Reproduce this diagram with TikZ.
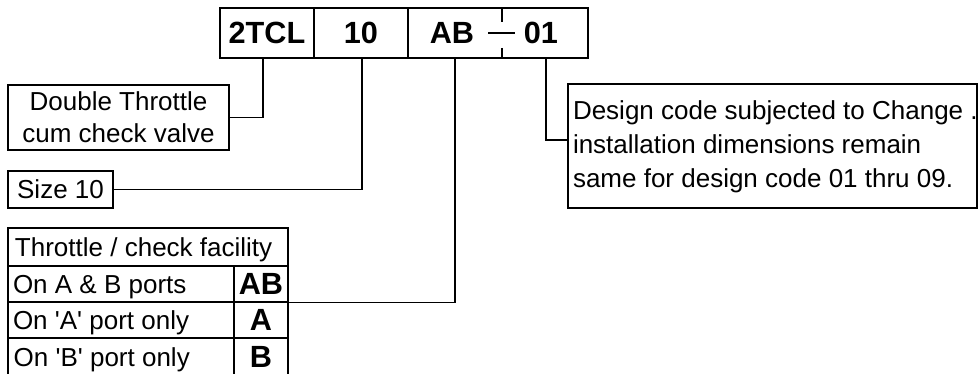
\documentclass[tikz,border=0pt]{standalone}
\usepackage{fontspec}
\setmainfont{Liberation Sans}[Ligatures=TeXOff]
\newcommand\pxu{0.75pt}
\newcommand\normtxt{\fontsize{19.5}{24}\selectfont}
\newcommand\boldtxt{\fontsize{23}{27}\selectfont\bfseries}
\begin{document}
\begin{tikzpicture}[x=0.75pt,y=-0.75pt,line width=1pt,
  every node/.style={inner sep=0pt,font=\normtxt},
  capt/.style={text height=14pt,text depth=0pt},
  bcapt/.style={font=\boldtxt,text height=16.4pt,text depth=0pt},
  box/.style={draw,line width=1pt},
  lead/.style={line width=0.8pt}]
\useasboundingbox (0,0) rectangle (979,374);
% code box
\node[box,minimum width=368*\pxu,minimum height=50*\pxu] (code) at (404,33) {};
\node[bcapt] (t1) at (267,33) {2TCL};
\node[bcapt] (t2) at (361,33) {10};
\node[bcapt] (t3) at (452,33) {AB};
\node[bcapt] (t4) at (541,33) {01};
\draw (314,8) -- (314,58);
\draw (408,8) -- (408,58);
\draw (502,8) -- (502,22);
\draw (502,48) -- (502,58);
\draw (488,33) -- (515,33);
% description boxes
\node[box,minimum width=221*\pxu,minimum height=65*\pxu,align=center,font=\fontsize{19.5}{24}\selectfont] (dbl) at (118.5,117.5) {Double Throttle\\cum check valve};
\node[box,capt,minimum width=105*\pxu,minimum height=37*\pxu] (size) at (60.5,189.5) {Size 10};
\node[box,minimum width=409*\pxu,minimum height=124*\pxu] (des) at (772.5,146) {};
\node[anchor=west,align=left,font=\fontsize{19.5}{25.5}\selectfont] (dest) at ([xshift=3.75pt,yshift=-0.8pt]des.west) {Design code subjected to Change .\\installation dimensions remain\\same for design code 01 thru 09.};
% table
\node[box,minimum width=280*\pxu,minimum height=38*\pxu] (hdr) at (148,247) {};
\node[capt,anchor=west] (hdrt) at ([xshift=5.25pt]hdr.west) {Throttle / check facility};
\node[box,minimum width=226*\pxu,minimum height=36*\pxu] (r1l) at (121,284) {};
\node[box,bcapt,minimum width=54*\pxu,minimum height=36*\pxu] (r1c) at (261,284) {AB};
\node[box,minimum width=226*\pxu,minimum height=36*\pxu] (r2l) at (121,320) {};
\node[box,bcapt,minimum width=54*\pxu,minimum height=36*\pxu] (r2c) at (261,320) {A};
\node[box,minimum width=226*\pxu,minimum height=40*\pxu] (r3l) at (121,358) {};
\node[box,minimum width=54*\pxu,minimum height=40*\pxu] (r3c) at (261,358) {};
\node[bcapt] (r3ct) at (261,357) {B};
\node[capt,anchor=west] (r1t) at ([xshift=3.75pt]r1l.west) {On A \& B ports};
\node[capt,anchor=west] (r2t) at ([xshift=3.75pt]r2l.west) {On 'A' port only};
\node[capt,anchor=west] (r3t) at (13,357) {On 'B' port only};
% leaders
\coordinate (l1) at (263,58);
\coordinate (l2) at (362,58);
\coordinate (l3) at (455,58);
\coordinate (l4) at (546,58);
\draw[lead] (l1) |- (dbl.east);
\draw[lead] (l2) |- (size.east);
\draw[lead] (l3) |- (r1c.south east);
\draw[lead] (l4) |- ([yshift=4.5pt]des.west);
\end{tikzpicture}
\end{document}
